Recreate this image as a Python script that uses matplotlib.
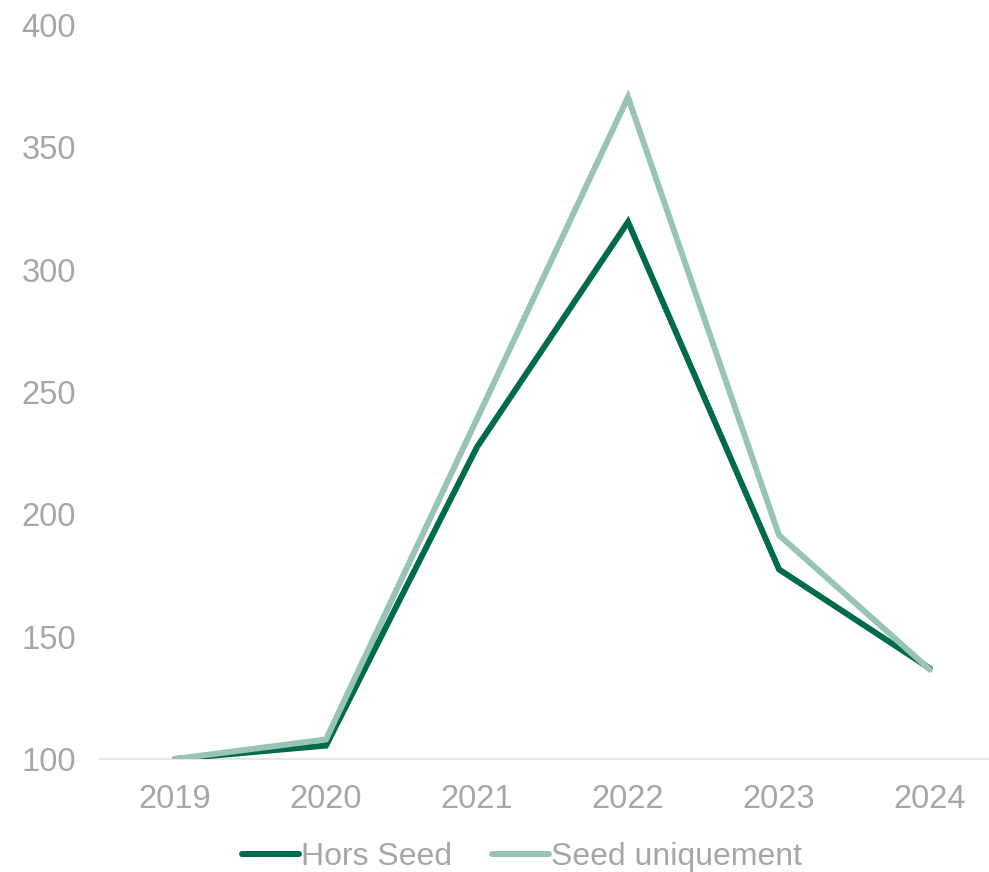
import matplotlib
matplotlib.use("Agg")
import matplotlib.pyplot as plt

plt.rcParams['font.family'] = ['Liberation Sans', 'DejaVu Sans']

annees = ["2019", "2020", "2021", "2022", "2023", "2024"]
hors_seed = [100, 105.5, 227.5, 319.5, 177.5, 137]
seed_uniquement = [100, 108, 239, 370.5, 191.5, 136.5]

c_dark = "#006B4C"
c_light = "#97C4B4"
c_gris = "#A6A6A6"

fig = plt.figure(figsize=(9.89, 8.72), dpi=100)
ax = fig.add_axes([99.5 / 989, 1 - 759 / 872, 906 / 989, (759 - 25) / 872])

x = list(range(len(annees)))
# la serie claire est dessinee par-dessus la foncee
ax.plot(x, hors_seed, color=c_dark, lw=4.3, solid_capstyle="round",
        solid_joinstyle="miter", label="Hors Seed", zorder=2)
ax.plot(x, seed_uniquement, color=c_light, lw=4.3, solid_capstyle="round",
        solid_joinstyle="miter", label="Seed uniquement", zorder=3)

ax.set_xlim(-0.5, 5.5)
ax.set_ylim(100, 400)
ax.set_yticks([100, 150, 200, 250, 300, 350, 400])
ax.set_xticks(x)
ax.set_xticklabels(annees)

for s in ["top", "right", "left"]:
    ax.spines[s].set_visible(False)
ax.spines["bottom"].set_color("#E6E6E6")
ax.spines["bottom"].set_linewidth(1.5)
ax.spines["bottom"].set_zorder(1)

ax.tick_params(axis="both", length=0, labelsize=23.5, labelcolor=c_gris)
ax.tick_params(axis="y", pad=17)
ax.tick_params(axis="x", pad=18)

leg = fig.legend(loc="center", bbox_to_anchor=(522 / 989, 1 - 857 / 872), ncol=2,
                 frameon=False, fontsize=23, handlelength=1.8,
                 handletextpad=0.05, columnspacing=1.25)
for t in leg.get_texts():
    t.set_color(c_gris)

fig.savefig("out.png", dpi=100)
